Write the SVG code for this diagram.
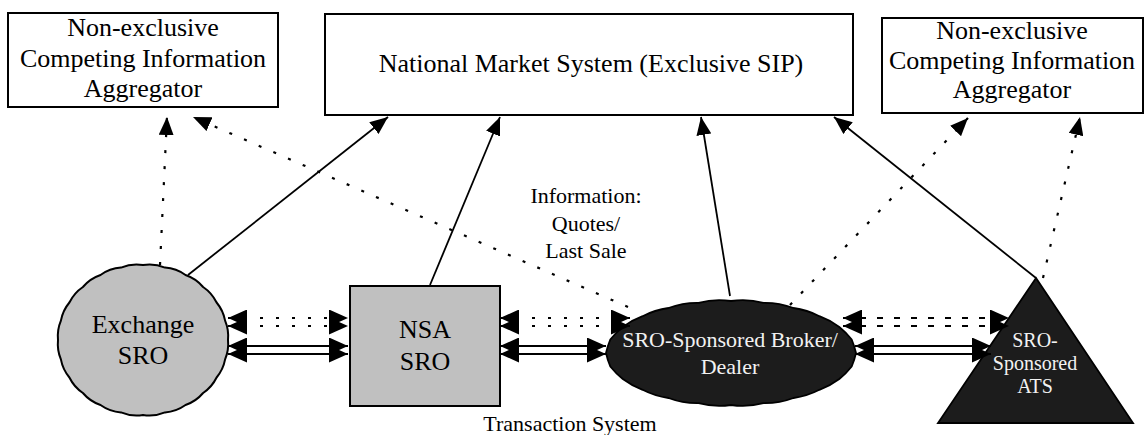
<svg xmlns="http://www.w3.org/2000/svg" width="1148" height="435" viewBox="0 0 1148 435">
<style>
.box{fill:#fff;stroke:#000;stroke-width:2}
text{font-family:'Liberation Serif','DejaVu Serif',serif;text-anchor:middle;fill:#000}
text.w{fill:#f2f2f2}
.solid{stroke:#000;stroke-width:1.8;fill:none}
.dual{stroke:#000;stroke-width:2;fill:none}
.dot{stroke:#000;stroke-width:2.2;stroke-dasharray:3 13;fill:none}
.dash{stroke:#000;stroke-width:2.2;stroke-dasharray:6 11;fill:none}
.gray{fill:#c0c0c0;stroke:#000;stroke-width:2}
.dark{fill:#1c1c1c;stroke:#000;stroke-width:1.8}
</style>
<defs>
<marker id="ah" viewBox="0 0 18 15" markerWidth="18" markerHeight="15" refX="18" refY="7.5" orient="auto-start-reverse" markerUnits="userSpaceOnUse">
<path d="M0,0 L18,7.5 L0,15 Z" fill="#000" stroke="none"/>
</marker>
<marker id="ahh" viewBox="0 0 19 17" markerWidth="19" markerHeight="17" refX="19" refY="8.5" orient="auto-start-reverse" markerUnits="userSpaceOnUse">
<path d="M0,0 L19,8.5 L0,17 Z" fill="#000" stroke="none"/>
</marker>
</defs>

<g id="agg-left">
<rect class="box" x="8" y="13" width="270" height="94"/>
<text font-size="26" x="143" y="36">Non-exclusive</text>
<text font-size="26" x="143" y="67">Competing Information</text>
<text font-size="26" x="143" y="97">Aggregator</text>
</g>

<g id="nms">
<rect class="box" x="325" y="14" width="528" height="101"/>
<text font-size="26" x="591" y="72">National Market System (Exclusive SIP)</text>
</g>

<g id="agg-right">
<rect class="box" x="882" y="18" width="261" height="95"/>
<text font-size="26" x="1012" y="39">Non-exclusive</text>
<text font-size="26" x="1012" y="69">Competing Information</text>
<text font-size="26" x="1012" y="98">Aggregator</text>
</g>

<g id="exchange">
<path class="gray" d="M228,340 A40,40 0 0 1 225.1,359.4 A40,40 0 0 1 216.6,377.5 A40,40 0 0 1 203.1,393 A40,40 0 0 1 185.5,405 A40,40 0 0 1 165,412.4 A40,40 0 0 1 143,415 A40,40 0 0 1 121,412.4 A40,40 0 0 1 100.5,405 A40,40 0 0 1 82.9,393 A40,40 0 0 1 69.4,377.5 A40,40 0 0 1 60.9,359.4 A40,40 0 0 1 58,340 A40,40 0 0 1 60.9,320.6 A40,40 0 0 1 69.4,302.5 A40,40 0 0 1 82.9,287 A40,40 0 0 1 100.5,275 A40,40 0 0 1 121,267.6 A40,40 0 0 1 143,265 A40,40 0 0 1 165,267.6 A40,40 0 0 1 185.5,275 A40,40 0 0 1 203.1,287 A40,40 0 0 1 216.6,302.5 A40,40 0 0 1 225.1,320.6 A40,40 0 0 1 228,340 Z"/>
<text font-size="26" x="143" y="333">Exchange</text>
<text font-size="26" x="143" y="364">SRO</text>
</g>

<g id="nsa">
<rect class="gray" x="350" y="286" width="150" height="120"/>
<text font-size="26" x="425" y="338">NSA</text>
<text font-size="26" x="425" y="370">SRO</text>
</g>

<g id="broker">
<path class="dark" d="M856,353 A80,80 0 0 1 851.7,366.5 A80,80 0 0 1 839.3,379 A80,80 0 0 1 819.4,389.8 A80,80 0 0 1 793.5,398 A80,80 0 0 1 763.4,403.2 A80,80 0 0 1 731,405 A80,80 0 0 1 698.6,403.2 A80,80 0 0 1 668.5,398 A80,80 0 0 1 642.6,389.8 A80,80 0 0 1 622.8,379 A80,80 0 0 1 610.3,366.5 A80,80 0 0 1 606,353 A80,80 0 0 1 610.3,339.5 A80,80 0 0 1 622.8,327 A80,80 0 0 1 642.6,316.2 A80,80 0 0 1 668.5,308 A80,80 0 0 1 698.6,302.8 A80,80 0 0 1 731,301 A80,80 0 0 1 763.4,302.8 A80,80 0 0 1 793.5,308 A80,80 0 0 1 819.4,316.2 A80,80 0 0 1 839.3,327 A80,80 0 0 1 851.7,339.5 A80,80 0 0 1 856,353 Z"/>
<text class="w" font-size="22" x="730" y="347">SRO-Sponsored Broker/</text>
<text class="w" font-size="22" x="730" y="374">Dealer</text>
</g>

<g id="ats">
<polygon class="dark" points="1036,278 1133,423 938,423"/>
<text class="w" font-size="20" x="1035" y="347">SRO-</text>
<text class="w" font-size="20" x="1035" y="370">Sponsored</text>
<text class="w" font-size="20" x="1035" y="393">ATS</text>
</g>

<g id="labels">
<text font-size="22" x="586" y="203">Information:</text>
<text font-size="22" x="586" y="231">Quotes/</text>
<text font-size="22" x="586" y="258">Last Sale</text>
<text font-size="22" x="570" y="431">Transaction System</text>
</g>

<g id="connectors">
<line class="solid" x1="188" y1="275" x2="388" y2="117" marker-end="url(#ah)"/>
<line class="solid" x1="430" y1="285" x2="500" y2="117" marker-end="url(#ah)"/>
<line class="solid" x1="730" y1="296" x2="701" y2="117" marker-end="url(#ah)"/>
<line class="solid" x1="1036" y1="278" x2="834" y2="117" marker-end="url(#ah)"/>

<line class="dot" x1="160" y1="265" x2="167" y2="117" marker-end="url(#ah)"/>
<line class="dot" x1="628" y1="307" x2="193" y2="117" marker-end="url(#ah)"/>
<line class="dot" x1="790" y1="305" x2="968" y2="118" marker-end="url(#ah)"/>
<line class="dot" x1="1043" y1="278" x2="1080" y2="117" marker-end="url(#ah)"/>

<line class="dot" x1="228" y1="318" x2="348" y2="318" marker-start="url(#ahh)" marker-end="url(#ahh)"/>
<line class="dot" x1="228" y1="326" x2="348" y2="326" marker-start="url(#ahh)" marker-end="url(#ahh)"/>
<line class="dual" x1="228" y1="346" x2="348" y2="346" marker-start="url(#ahh)" marker-end="url(#ahh)"/>
<line class="dual" x1="228" y1="354" x2="348" y2="354" marker-start="url(#ahh)" marker-end="url(#ahh)"/>

<line class="dot" x1="500" y1="318" x2="630" y2="318" marker-start="url(#ahh)" marker-end="url(#ahh)"/>
<line class="dot" x1="500" y1="326" x2="630" y2="326" marker-start="url(#ahh)" marker-end="url(#ahh)"/>
<line class="dual" x1="500" y1="346" x2="606" y2="346" marker-start="url(#ahh)" marker-end="url(#ahh)"/>
<line class="dual" x1="500" y1="354" x2="606" y2="354" marker-start="url(#ahh)" marker-end="url(#ahh)"/>

<line class="dash" x1="843" y1="318" x2="1009" y2="318" marker-start="url(#ahh)" marker-end="url(#ahh)"/>
<line class="dash" x1="843" y1="326" x2="1009" y2="326" marker-start="url(#ahh)" marker-end="url(#ahh)"/>
<line class="dual" x1="855" y1="346" x2="991" y2="346" marker-start="url(#ahh)" marker-end="url(#ahh)"/>
<line class="dual" x1="855" y1="354" x2="991" y2="354" marker-start="url(#ahh)" marker-end="url(#ahh)"/>
</g>
</svg>
